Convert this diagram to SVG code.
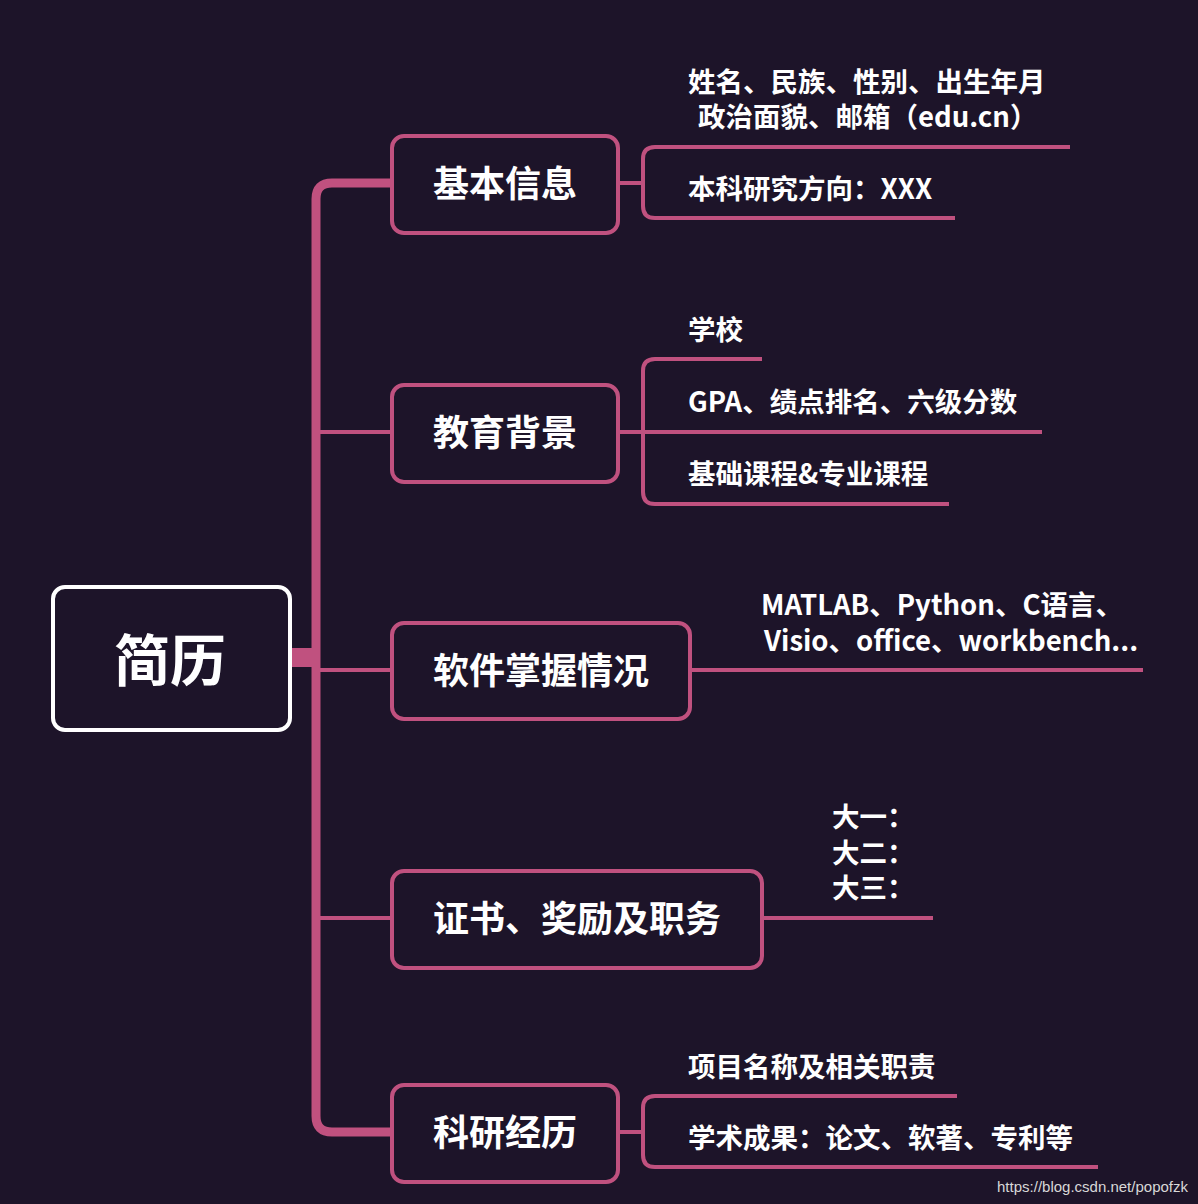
<svg xmlns="http://www.w3.org/2000/svg" width="1198" height="1204" viewBox="0 0 1198 1204">
<style>
.c{fill:none;stroke:#c0517f;stroke-linecap:butt}
.b{fill:none;stroke:#c0517f;stroke-width:4}
.t{font-family:"Noto Sans CJK SC","Noto Sans",sans-serif;font-weight:bold;fill:#ffffff}
.bt{font-size:36px;text-anchor:middle;dominant-baseline:central}
.s{font-size:27.5px}
</style>
<rect width="1198" height="1204" fill="#1d1429"/>
<g id="connectors">
<path class="c" stroke-width="9" d="M390 183 H332 Q316 183 316 199 V1116 Q316 1132 332 1132 H390"/>
<rect x="290" y="648" width="30" height="19" fill="#c0517f"/>
<path class="c" stroke-width="4" d="M316 432 H392 M316 670 H392 M316 918 H392"/>
<path class="c" stroke-width="4" d="M618 183 H643 M1070 147 H655 Q643 147 643 159 V206 Q643 218 655 218 H955"/>
<path class="c" stroke-width="4" d="M618 432 H1042 M762 359 H655 Q643 359 643 371 V492 Q643 504 655 504 H949"/>
<path class="c" stroke-width="4" d="M690 670 H1143"/>
<path class="c" stroke-width="4" d="M762 918 H933"/>
<path class="c" stroke-width="4" d="M618 1132 H643 M957 1096 H655 Q643 1096 643 1108 V1155 Q643 1167 655 1167 H1098"/>
</g>
<g id="root"><rect x="53" y="587" width="237" height="143" rx="12" fill="#1d1429" stroke="#ffffff" stroke-width="4"/><text class="t" x="170" y="656" font-size="56" text-anchor="middle" dominant-baseline="central">简历</text></g>
<g id="n1"><rect class="b" x="392" y="136" width="226" height="97" rx="12" fill="#1d1429"/><text class="t bt" x="505" y="181">基本信息</text></g>
<g id="n2"><rect class="b" x="392" y="385" width="226" height="97" rx="12" fill="#1d1429"/><text class="t bt" x="505" y="430">教育背景</text></g>
<g id="n3"><rect class="b" x="392" y="623" width="298" height="96" rx="12" fill="#1d1429"/><text class="t bt" x="541" y="668">软件掌握情况</text></g>
<g id="n4"><rect class="b" x="392" y="871" width="370" height="97" rx="12" fill="#1d1429"/><text class="t bt" x="577" y="916">证书、奖励及职务</text></g>
<g id="n5"><rect class="b" x="392" y="1085" width="226" height="97" rx="12" fill="#1d1429"/><text class="t bt" x="505" y="1130">科研经历</text></g>
<g id="leaves">
<text class="t s" x="688" y="92">姓名、民族、性别、出生年月</text>
<text class="t s" x="698" y="127">政治面貌、邮箱（edu.cn）</text>
<text class="t s" x="688" y="199">本科研究方向：XXX</text>
<text class="t s" x="688" y="340">学校</text>
<text class="t s" x="688" y="412">GPA、绩点排名、六级分数</text>
<text class="t s" x="688" y="484">基础课程&amp;专业课程</text>
<text class="t s" x="761" y="615">MATLAB、Python、C语言、</text>
<text class="t s" x="764" y="651">Visio、office、workbench...</text>
<text class="t s" x="832" y="827">大一：</text>
<text class="t s" x="832" y="863">大二：</text>
<text class="t s" x="832" y="898">大三：</text>
<text class="t s" x="688" y="1077">项目名称及相关职责</text>
<text class="t s" x="688" y="1148">学术成果：论文、软著、专利等</text>
</g>
<text x="1188" y="1192" text-anchor="end" font-family="Liberation Sans,sans-serif" font-size="15" fill="#d8d8d8">https://blog.csdn.net/popofzk</text>
</svg>
